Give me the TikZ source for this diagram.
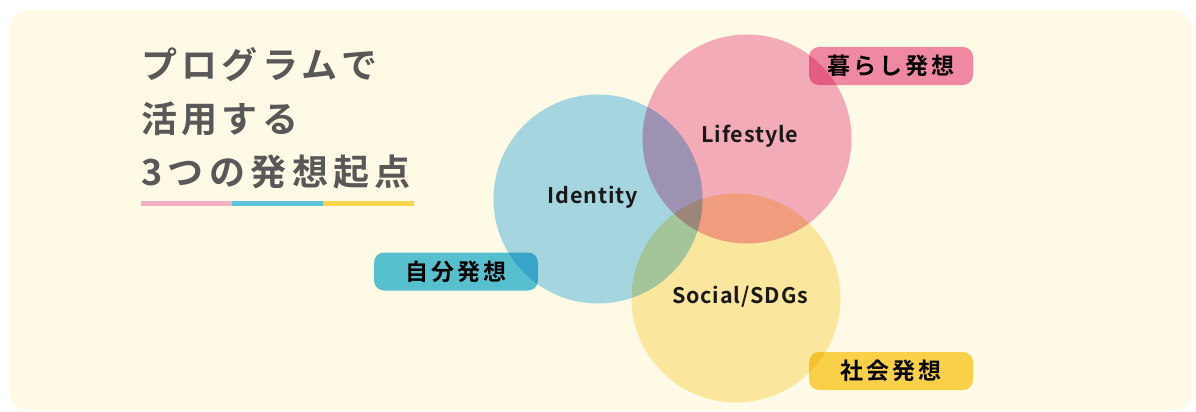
\documentclass[tikz,border=0pt]{standalone}
\usepackage{fontspec}
\newfontfamily\titlefont{Noto Sans CJK JP Bold}[LetterSpace=12]
\newfontfamily\titlewide{Noto Sans CJK JP Bold}[LetterSpace=15]
\newfontfamily\tagfont{Noto Sans CJK JP Bold}[LetterSpace=12]
\newfontfamily\lblfont{Noto Sans CJK JP Bold}[LetterSpace=4]

\definecolor{bgcream}{HTML}{FEFAE6}
\definecolor{titlegray}{HTML}{595757}
\definecolor{idblue}{HTML}{A6DBF8}
\definecolor{lifepink}{HTML}{F4AFCB}
\definecolor{socyellow}{HTML}{FCEBB0}
\definecolor{tagblue}{HTML}{58C4E6}
\definecolor{tagpink}{HTML}{F08CB4}
\definecolor{tagyellow}{HTML}{FAD650}
\definecolor{barpink}{HTML}{F2AFC1}
\definecolor{barblue}{HTML}{5EC4DC}
\definecolor{baryellow}{HTML}{F8D54E}

\tikzset{
  circ/.style={circle, minimum size=209pt, inner sep=0pt},
  tagbox/.style={rounded corners=10pt, minimum width=164pt, minimum height=38pt,
    inner sep=0pt, font=\tagfont\fontsize{23}{23}\selectfont, text=black},
  lbl/.style={font=\lblfont\fontsize{21.5}{21.5}\selectfont, text=black!90},
  ttl/.style={anchor=west, inner sep=0pt, font=\titlefont\fontsize{36}{36}\selectfont, text=titlegray},
}

\begin{document}
\begin{tikzpicture}[x=1pt, y=-1pt]
	\useasboundingbox (0,0) rectangle (1196,412);
	\fill[white] (0,0) rectangle (1196,412);
	\fill[bgcream, rounded corners=18pt] (10,10) rectangle (1192,410);

	\node[ttl] (t1) at (141,65) {プログラムで};
	\node[ttl] (t2) at (141,119) {活用する};
	\node[ttl, font=\titlewide\fontsize{36}{36}\selectfont] (t3) at (141,172) {3つの発想起点};
	\coordinate (b0) at (141,203);
	\coordinate (b1) at (232,203);
	\coordinate (b2) at (323,203);
	\coordinate (b3) at (414,203);
	\draw[line width=5pt, barpink] (b0) -- (b1);
	\draw[line width=5pt, barblue] (b1) -- (b2);
	\draw[line width=5pt, baryellow] (b2) -- (b3);

	\begin{scope}[blend mode=multiply]
		\node[circ, fill=idblue] (id) at (598,199) {};
		\node[circ, fill=lifepink] (life) at (747,139) {};
		\node[circ, fill=socyellow] (soc) at (736,298) {};
		\node[tagbox, fill=tagblue] (selftag) at (456,271.5) {自分発想};
		\node[tagbox, fill=tagpink] (lifetag) at (891,66) {暮らし発想};
		\node[tagbox, fill=tagyellow] (soctag) at (891,371) {社会発想};
	\end{scope}

	\node[lbl] (idlbl) at (593,197) {Identity};
	\node[lbl] (lifelbl) at (750,136) {Lifestyle};
	\node[lbl] (soclbl) at (740,297) {Social/SDGs};
\end{tikzpicture}
\end{document}
